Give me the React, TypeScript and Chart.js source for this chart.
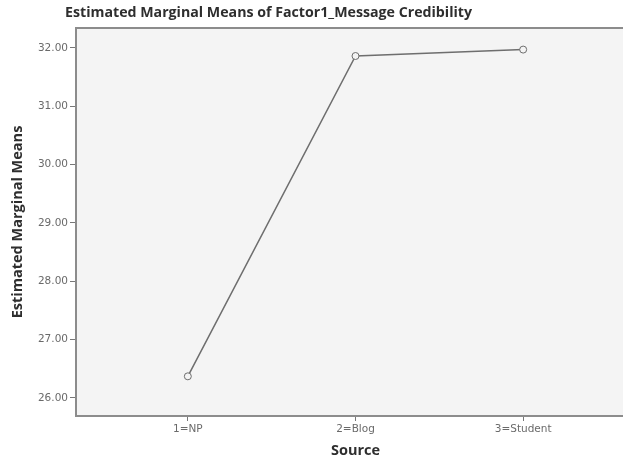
import React, { useEffect, useRef } from "react";
import { Chart, registerables } from "chart.js";

Chart.register(...registerables);

const categories = ["1=NP", "2=Blog", "3=Student"];
const categoryPositions = [1, 2, 3];
const means = [26.37, 31.86, 31.97];
const yTicks = [26, 27, 28, 29, 30, 31, 32];
const chartTitle = "Estimated Marginal Means of Factor1_Message Credibility";
const xTitle = "Source";
const yTitle = "Estimated Marginal Means";

const FONT = "'Open Sans', 'DejaVu Sans', sans-serif";
const TICK_FONT = "'DejaVu Sans', sans-serif";

const framePlugin = {
  id: "frame",
  beforeDraw(chart: any) {
    const { ctx, chartArea } = chart;
    ctx.save();
    ctx.fillStyle = "#f4f4f4";
    ctx.fillRect(chartArea.left, chartArea.top, chartArea.right - chartArea.left, chartArea.bottom - chartArea.top);
    ctx.restore();
  },
  afterDatasetsDraw(chart: any) {
    const { ctx, chartArea } = chart;
    ctx.save();
    ctx.strokeStyle = "#8c8c8c";
    ctx.lineWidth = 2;
    ctx.strokeRect(chartArea.left, chartArea.top, chartArea.right - chartArea.left, chartArea.bottom - chartArea.top);
    ctx.restore();
  },
  afterDraw(chart: any) {
    const { ctx, chartArea } = chart;
    ctx.save();
    ctx.fillStyle = "#2e2e2e";
    ctx.font = `bold 14.2px ${FONT}`;
    ctx.textBaseline = "middle";
    ctx.textAlign = "left";
    ctx.fillText(chartTitle, chartArea.left - 11, 13);
    ctx.restore();
  },
};

export default function App() {
  const ref = useRef<HTMLCanvasElement>(null);
  useEffect(() => {
    if (!ref.current) return;
    const chart = new Chart(ref.current, {
      type: "line",
      data: {
        datasets: [
          {
            data: categoryPositions.map((x, i) => ({ x, y: means[i] })),
            borderColor: "#6e6e6e",
            borderWidth: 1.5,
            pointRadius: 3.5,
            pointBorderWidth: 1,
            pointBackgroundColor: "#f4f4f4",
            pointBorderColor: "#6e6e6e",
            tension: 0,
          },
        ],
      },
      plugins: [framePlugin],
      options: {
        animation: false,
        responsive: false,
        maintainAspectRatio: false,
        layout: { padding: { top: 28, right: 4, left: 0, bottom: 0 } },
        plugins: { legend: { display: false }, tooltip: { enabled: false }, title: { display: false } },
        scales: {
          x: {
            type: "linear",
            min: 0.333,
            max: 3.667,
            afterBuildTicks: (scale: any) => {
              scale.ticks = categoryPositions.map((v) => ({ value: v }));
            },
            afterFit: (scale: any) => {
              scale.height = 44;
            },
            ticks: {
              callback: (v: any) => {
                const i = categoryPositions.indexOf(Number(v));
                return i >= 0 ? categories[i] : "";
              },
              color: "#6a6a6a",
              font: { family: TICK_FONT, size: 10.5 },
              padding: 2,
              maxRotation: 0,
              autoSkip: false,
            },
            grid: { drawOnChartArea: false, tickLength: 5, tickColor: "#777777" },
            border: { display: false },
            title: {
              display: true,
              text: xTitle,
              color: "#2e2e2e",
              font: { family: FONT, size: 14.5, weight: "bold" },
              padding: { top: 0, bottom: 0 },
            },
          },
          y: {
            type: "linear",
            min: 25.69,
            max: 32.34,
            afterBuildTicks: (scale: any) => {
              scale.ticks = yTicks.map((v) => ({ value: v }));
            },
            afterFit: (scale: any) => {
              scale.width = 76;
            },
            ticks: {
              callback: (v: any) => Number(v).toFixed(2),
              color: "#6a6a6a",
              font: { family: TICK_FONT, size: 10.5 },
              padding: 2,
            },
            grid: { drawOnChartArea: false, tickLength: 6, tickColor: "#777777" },
            border: { display: false },
            title: {
              display: true,
              text: yTitle,
              color: "#2e2e2e",
              font: { family: FONT, size: 14.5, weight: "bold" },
              padding: { top: 9, bottom: 4 },
            },
          },
        },
      },
    } as any);
    return () => chart.destroy();
  }, []);
  return (
    <div style={{ position: "fixed", left: 0, top: 0, width: 640, height: 460, overflow: "hidden", background: "#ffffff" }}>
      <canvas ref={ref} width={640} height={460} />
    </div>
  );
}
